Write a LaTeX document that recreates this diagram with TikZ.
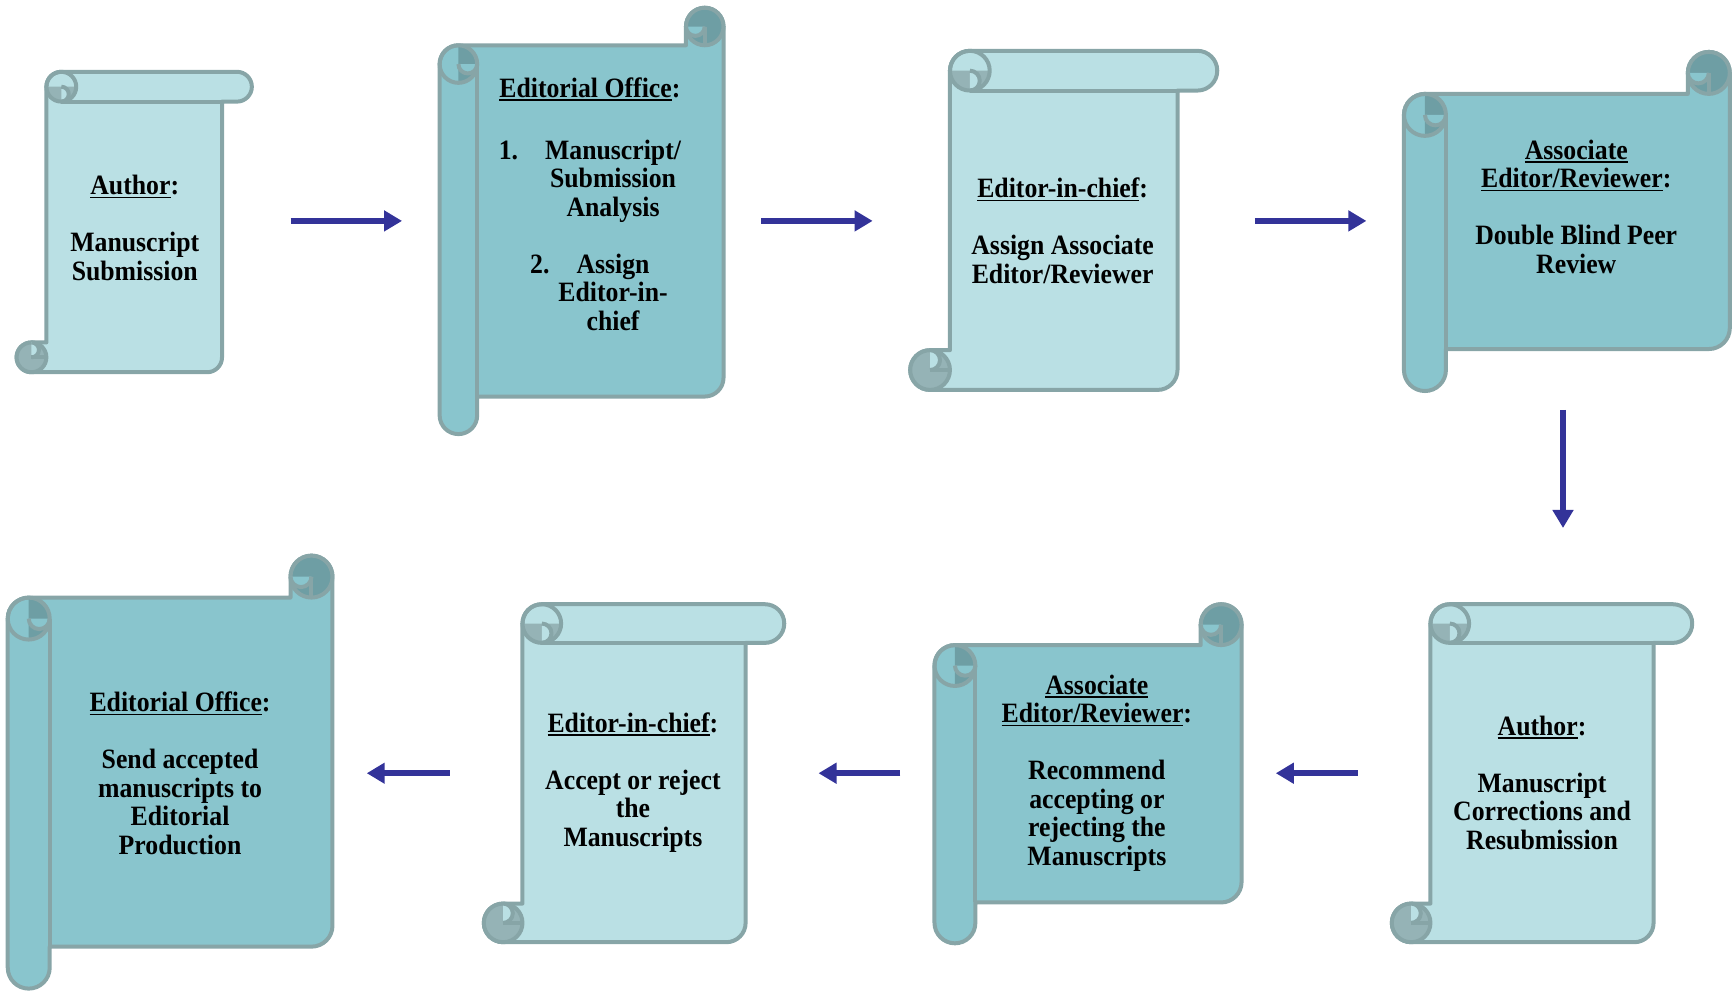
\documentclass[tikz,border=0pt]{standalone}
\usepackage{fontspec}
\setmainfont{Liberation Serif}[FakeStretch=0.92]
\usetikzlibrary{arrows.meta}
\definecolor{lightfill}{HTML}{BAE0E4}
\definecolor{darkfill}{HTML}{89C5CD}
\definecolor{lightcurl}{HTML}{95B3B6}
\definecolor{darkcurl}{HTML}{6E9EA4}
\definecolor{edgecol}{HTML}{87A5A7}
\definecolor{flow}{HTML}{333399}
\newcommand\myul[1]{\setbox0\hbox{#1}\rlap{\rule[-3.5pt]{\wd0}{1.5pt}}\box0}
\newcommand\scrollshape[7]{%
  \pgfmathsetmacro\Sl{#1}\pgfmathsetmacro\St{#2}\pgfmathsetmacro\Sr{#3}\pgfmathsetmacro\Sb{#4}%
  \pgfmathsetmacro\Sc{#5}\pgfmathsetmacro\Sh{#5/2}\pgfmathsetmacro\Sq{#5/4}%
  \pgfmathsetmacro\Cx{#1+#5+#5/2}\pgfmathsetmacro\Cy{#2+#5/2}%
  \pgfmathsetmacro\Bx{#1+#5/2}\pgfmathsetmacro\By{#4-#5/2}%
  \path[scrolledge,fill=#6] (\Sl+\Sc,\Sb-\Sc) -- (\Sl+\Sc,\St+\Sh)
     arc[start angle=180,end angle=270,radius=\Sh] -- (\Sr-\Sh,\St)
     arc[start angle=270,end angle=450,radius=\Sh] -- (\Sr-\Sc,\St+\Sc)
     -- (\Sr-\Sc,\Sb-\Sh) arc[start angle=0,end angle=90,radius=\Sh]
     -- (\Sl+\Sh,\Sb) arc[start angle=90,end angle=270,radius=\Sh] -- cycle;
  \draw[scrolledge] (\Cx,\St+\Sc) -- (\Sr-\Sc,\St+\Sc);
  \fill[#7] (\Cx-\Sh,\Cy) arc[start angle=180,end angle=0,radius=\Sh] -- cycle;
  \filldraw[scrolledge,fill=#6] (\Cx,\Cy) arc[start angle=270,end angle=450,radius=\Sq];
  \draw[scrolledge] (\Cx,\Cy) circle[radius=\Sh];
  \filldraw[scrolledge,fill=#7] (\Bx,\By) circle[radius=\Sh];
  \filldraw[scrolledge,fill=#6] (\Bx,\By-\Sh) arc[start angle=270,end angle=450,radius=\Sq];
  \draw[scrolledge] (\Bx,\By) -- (\Sl+\Sc,\By);
}
\newcommand\vscroll[5]{\scrollshape{#1}{#2}{#3}{#4}{#5}{lightfill}{lightcurl}}
\newcommand\hscroll[5]{%
  \begin{scope}[cm={0,-1,-1,0,(0,0)}]
    \scrollshape{#2}{#1}{#4}{#3}{#5}{darkfill}{darkcurl}
  \end{scope}}
\begin{document}
\begin{tikzpicture}[x=1.1046pt,y=-1.1046pt,
  scrolledge/.style={draw=edgecol,line width=4pt,line join=round},
  lab/.style={font=\fontsize{28}{28.5}\selectfont\bfseries,align=center,inner sep=0pt},
  flowarrow/.style={draw=flow,line width=6pt,-{Triangle[length=18pt,width=20pt]}}]
\useasboundingbox (0,0) rectangle (1568,897);
% scrolls
\vscroll{15}{65}{228}{337}{27}
\hscroll{398}{7}{655}{393}{34}
\vscroll{824}{46}{1102}{353}{36}
\hscroll{1271}{47}{1566}{354}{38}
\hscroll{7}{503}{301}{895}{38}
\vscroll{438}{547}{710}{853}{35}
\hscroll{846}{547}{1124}{854}{37}
\vscroll{1260}{547}{1532}{853}{35}
% texts
\node[lab] (t1) at (122,206.5) {\myul{Author}:\\[28.5pt]Manuscript\\Submission};
\node[lab,anchor=base] (t2) at (534,88) {\myul{Editorial Office}:};
\node[lab] (t2b) at (555,213) {\llap{1.\hspace{27pt}}Manuscript/\\Submission\\Analysis\\[28.5pt]\llap{2.\hspace{27pt}}Assign\\Editor-in-\\chief};
\node[lab] (t3) at (962,209) {\myul{Editor-in-chief}:\\[28.5pt]Assign Associate\\Editor/Reviewer};
\node[lab] (t4) at (1427,187) {\myul{Associate}\\\myul{Editor/Reviewer}:\\[28.5pt]Double Blind Peer\\Review};
\node[lab] (t5) at (163,700) {\myul{Editorial Office}:\\[28.5pt]Send accepted\\manuscripts to\\Editorial\\Production};
\node[lab] (t6) at (573,708.5) {\myul{Editor-in-chief}:\\[28.5pt]Accept or reject\\the\\Manuscripts};
\node[lab] (t7) at (993,700) {\myul{Associate}\\\myul{Editor/Reviewer}:\\[28.5pt]Recommend\\accepting or\\rejecting the\\Manuscripts};
\node[lab] (t8) at (1396,708.5) {\myul{Author}:\\[28.5pt]Manuscript\\Corrections and\\Resubmission};
% arrows
\coordinate (a1s) at (263,200); \coordinate (a1e) at (364,200);
\coordinate (a2s) at (689,200); \coordinate (a2e) at (790,200);
\coordinate (a3s) at (1136,200); \coordinate (a3e) at (1237,200);
\coordinate (a4s) at (1415,371); \coordinate (a4e) at (1415,478);
\coordinate (a5s) at (1229,700); \coordinate (a5e) at (1155,700);
\coordinate (a6s) at (815,700); \coordinate (a6e) at (741,700);
\coordinate (a7s) at (407,700); \coordinate (a7e) at (332,700);
\draw[flowarrow] (a1s) -- (a1e);
\draw[flowarrow] (a2s) -- (a2e);
\draw[flowarrow] (a3s) -- (a3e);
\draw[flowarrow] (a4s) -- (a4e);
\draw[flowarrow] (a5s) -- (a5e);
\draw[flowarrow] (a6s) -- (a6e);
\draw[flowarrow] (a7s) -- (a7e);
\end{tikzpicture}
\end{document}
